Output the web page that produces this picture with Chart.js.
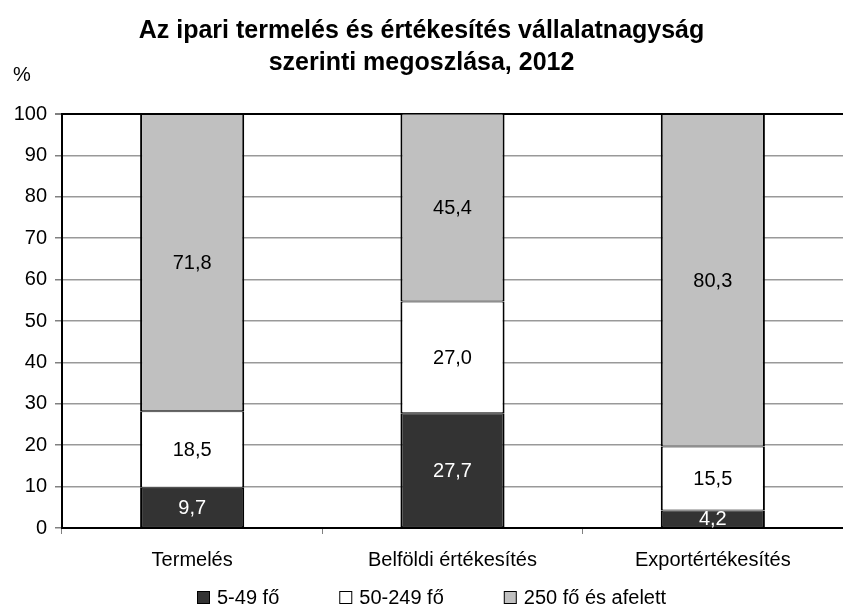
<!DOCTYPE html>
<html>
<head>
<meta charset="utf-8">
<script src="https://cdn.jsdelivr.net/npm/chart.js@4"></script>
<style>
html,body{margin:0;padding:0;background:#fff;overflow:hidden;}
#wrap{width:843px;height:615px;position:relative;}
</style>
</head>
<body>
<div id="wrap"><canvas id="c" width="843" height="615"></canvas></div>
<script>
const categories = ['Termelés', 'Belföldi értékesítés', 'Exportértékesítés'];
const seriesNames = ['5-49 fő', '50-249 fő', '250 fő és afelett'];
const small = [9.7, 27.7, 4.2];
const medium = [18.5, 27.0, 15.5];
const large = [71.8, 45.4, 80.3];
const yTicks = [0, 10, 20, 30, 40, 50, 60, 70, 80, 90, 100];
const titleLines = ['Az ipari termelés és értékesítés vállalatnagyság', 'szerinti megoszlása, 2012'];
const unitLabel = '%';

const FONT = "'Liberation Sans', Arial, sans-serif";
const colors = ['#333333', '#ffffff', '#c0c0c0'];
const labelColors = ['#ffffff', '#000000', '#000000'];

const valueLabels = {
  id: 'valueLabels',
  afterDatasetsDraw(chart) {
    const ctx = chart.ctx;
    ctx.save();
    ctx.font = '20px ' + FONT;
    ctx.textAlign = 'center';
    ctx.textBaseline = 'middle';
    chart.data.datasets.forEach((ds, i) => {
      const meta = chart.getDatasetMeta(i);
      meta.data.forEach((el, j) => {
        const v = ds.data[j];
        const y = (el.y + el.base) / 2;
        ctx.fillStyle = labelColors[i];
        ctx.fillText(v.toFixed(1).replace('.', ','), el.x, y + 1);
      });
    });
    ctx.restore();
  }
};

const extras = {
  id: 'extras',
  afterDraw(chart) {
    const ctx = chart.ctx;
    ctx.save();
    ctx.font = '20px ' + FONT;
    ctx.fillStyle = '#000';
    ctx.textAlign = 'center';
    ctx.textBaseline = 'middle';
    ctx.fillText(unitLabel, 22, 75);
    // legend
    const box = 12, gap = 8, spacing = 60, yc = 597;
    const items = chart.data.datasets.map(ds => ({ text: ds.label, color: ds.backgroundColor }));
    const widths = items.map(it => box + gap + ctx.measureText(it.text).width);
    const total = widths.reduce((a, b) => a + b, 0) + spacing * (items.length - 1);
    let x = Math.round(432 - total / 2);
    ctx.textAlign = 'left';
    items.forEach((it, i) => {
      ctx.fillStyle = it.color;
      ctx.fillRect(x + 0.5, yc - box / 2 + 0.5, box, box);
      ctx.strokeStyle = '#000';
      ctx.lineWidth = 1;
      ctx.strokeRect(x + 0.5, yc - box / 2 + 0.5, box, box);
      ctx.fillStyle = '#000';
      ctx.fillText(it.text, x + box + gap, yc + 1);
      x += widths[i] + spacing;
    });
    ctx.restore();
  }
};

new Chart(document.getElementById('c'), {
  type: 'bar',
  data: {
    labels: categories,
    datasets: [small, medium, large].map((d, i) => ({
      label: seriesNames[i],
      data: d,
      backgroundColor: colors[i],
      borderColor: '#000000',
      borderWidth: { left: 2, right: 2, top: 1, bottom: 1 },
      borderSkipped: false,
      barPercentage: 0.4,
      categoryPercentage: 1.0
    }))
  },
  options: {
    responsive: false,
    animation: false,
    devicePixelRatio: 1,
    layout: { padding: { left: 0, right: 0, top: 0, bottom: 29 } },
    plugins: {
      title: {
        display: true,
        text: titleLines,
        color: '#000',
        font: { family: FONT, size: 25, weight: 'bold', lineHeight: 1.28 },
        padding: { top: 15, bottom: 35 }
      },
      legend: { display: false },
      tooltip: { enabled: false }
    },
    scales: {
      x: {
        stacked: true,
        grid: {
          display: true,
          drawOnChartArea: false,
          drawTicks: true,
          tickLength: 6,
          color: '#808080',
          offset: true
        },
        border: { display: true, color: '#000', width: 2 },
        ticks: {
          color: '#000',
          font: { family: FONT, size: 20 },
          padding: 14
        }
      },
      y: {
        stacked: true,
        min: 0,
        max: 100,
        afterBuildTicks(axis) { axis.ticks = yTicks.map(v => ({ value: v })); },
        afterFit(axis) { axis.width = 62; },
        grid: {
          color: ctx => (ctx.tick && ctx.tick.value === 100) ? '#000' : '#999999',
          lineWidth: ctx => (ctx.tick && ctx.tick.value === 100) ? 2 : 1.5,
          tickColor: '#808080',
          tickLength: 7
        },
        border: { display: true, color: '#000', width: 2 },
        ticks: {
          color: '#000',
          font: { family: FONT, size: 20 },
          padding: 8
        }
      }
    }
  },
  plugins: [valueLabels, extras]
});
</script>
</body>
</html>
